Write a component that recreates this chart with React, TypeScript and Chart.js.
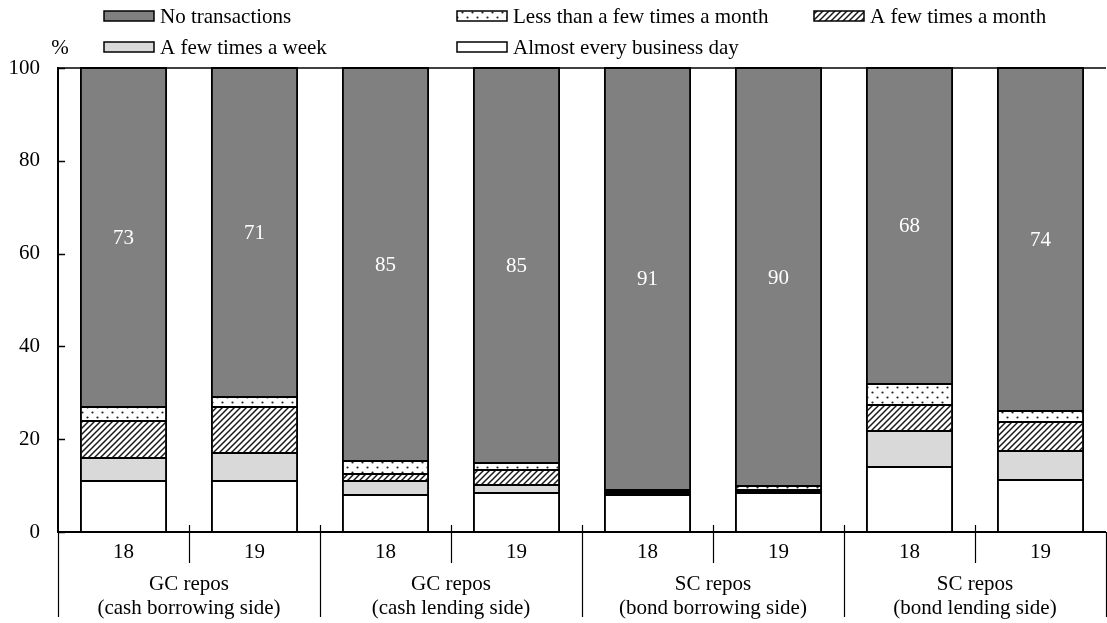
import React, { useEffect, useRef } from 'react';
import { Chart, registerables } from 'chart.js';

Chart.register(...registerables);

const categories = ['18', '19', '18', '19', '18', '19', '18', '19'];
const groupLine1 = ['GC repos', 'GC repos', 'SC repos', 'SC repos'];
const groupLine2 = ['(cash borrowing side)', '(cash lending side)', '(bond borrowing side)', '(bond lending side)'];
const yTicks = [0, 20, 40, 60, 80, 100];

const seriesNames = [
  'Almost every business day',
  'A few times a week',
  'A few times a month',
  'Less than a few times a month',
  'No transactions',
];
const almostEveryDay = [11, 11, 8, 8.5, 7.9, 8.3, 14.1, 11.1];
const fewTimesWeek = [5, 6, 2.9, 1.7, 0.3, 0.3, 7.7, 6.4];
const fewTimesMonth = [8, 10, 1.7, 3.2, 0.4, 0.4, 5.6, 6.1];
const lessThanFewMonth = [3, 2, 2.8, 1.5, 0.5, 0.9, 4.6, 2.5];
const noTransactions = [73, 71, 84.6, 85, 90.9, 90.1, 68, 73.9];

const FONT = "'Liberation Serif', 'Times New Roman', serif";
const FS = 21;

function makeDots(): CanvasPattern | string {
  const c = document.createElement('canvas');
  c.width = 10; c.height = 10;
  const g = c.getContext('2d');
  if (!g) return '#fff';
  g.fillStyle = '#fff';
  g.fillRect(0, 0, 10, 10);
  g.fillStyle = '#222';
  g.beginPath(); g.arc(2.5, 2.5, 1.1, 0, Math.PI * 2); g.fill();
  g.beginPath(); g.arc(7.5, 7.5, 1.1, 0, Math.PI * 2); g.fill();
  return g.createPattern(c, 'repeat') || '#fff';
}

function makeHatch(): CanvasPattern | string {
  const s = 6;
  const c = document.createElement('canvas');
  c.width = s; c.height = s;
  const g = c.getContext('2d');
  if (!g) return '#fff';
  g.fillStyle = '#fff';
  g.fillRect(0, 0, s, s);
  g.strokeStyle = '#1a1a1a';
  g.lineWidth = 1.5;
  g.beginPath();
  g.moveTo(-1, s + 1); g.lineTo(s + 1, -1);
  g.moveTo(-1, 1); g.lineTo(1, -1);
  g.moveTo(s - 1, s + 1); g.lineTo(s + 1, s - 1);
  g.stroke();
  return g.createPattern(c, 'repeat') || '#fff';
}

export default function App() {
  const ref = useRef<HTMLCanvasElement | null>(null);

  useEffect(() => {
    document.body.style.margin = '0';
    const canvas = ref.current;
    if (!canvas) return;
    const dots = makeDots();
    const hatch = makeHatch();
    const fills: any[] = ['#ffffff', '#d9d9d9', hatch, dots, '#808080'];
    const values = [almostEveryDay, fewTimesWeek, fewTimesMonth, lessThanFewMonth, noTransactions];

    const overlay = {
      id: 'overlay',
      afterDatasetsDraw(chart: any) {
        const ctx = chart.ctx as CanvasRenderingContext2D;
        const area = chart.chartArea;
        const xs = chart.scales.x;
        const ys = chart.scales.y;
        ctx.save();

        // crisp horizontal segment boundaries
        ctx.fillStyle = '#000';
        values.forEach((_, d) => {
          const m = chart.getDatasetMeta(d);
          m.data.forEach((el: any) => {
            const p = el.getProps(['x', 'y', 'base', 'width'], true);
            const x0 = Math.round(p.x - p.width / 2);
            const x1 = Math.round(p.x + p.width / 2);
            const yt = Math.round(p.y);
            ctx.fillRect(x0, yt - 1, x1 - x0, 2);
          });
        });

        // value labels on the no-transactions segment
        const meta = chart.getDatasetMeta(4);
        ctx.fillStyle = '#ffffff';
        ctx.font = `${FS}px ${FONT}`;
        ctx.textAlign = 'center';
        ctx.textBaseline = 'middle';
        meta.data.forEach((el: any, i: number) => {
          const p = el.getProps(['x', 'y', 'base'], true);
          ctx.fillText(String(Math.round(noTransactions[i])), p.x, (p.y + p.base) / 2 + 1);
        });

        ctx.strokeStyle = '#000';
        // top frame line
        ctx.lineWidth = 1.5;
        ctx.beginPath();
        ctx.moveTo(area.left, area.top);
        ctx.lineTo(area.right, area.top);
        ctx.stroke();
        // y inner ticks
        ctx.lineWidth = 1.5;
        yTicks.forEach((t) => {
          const y = Math.round(ys.getPixelForValue(t)) + 0.5;
          ctx.beginPath();
          ctx.moveTo(area.left, y);
          ctx.lineTo(area.left + 7, y);
          ctx.stroke();
        });
        // x axis line
        ctx.lineWidth = 2;
        ctx.beginPath();
        ctx.moveTo(area.left, area.bottom);
        ctx.lineTo(area.right, area.bottom);
        ctx.stroke();
        // category separators
        const n = categories.length;
        const w = (area.right - area.left) / n;
        ctx.lineWidth = 1.2;
        for (let i = 0; i <= n; i++) {
          const x = Math.round(area.left + w * i) + 0.5;
          const isGroup = i % 2 === 0;
          ctx.beginPath();
          ctx.moveTo(x, i === 0 || i === n ? area.bottom : area.bottom - 7);
          ctx.lineTo(x, isGroup ? area.bottom + 85 : area.bottom + 31);
          ctx.stroke();
        }
        // labels
        ctx.fillStyle = '#000';
        ctx.font = `${FS}px ${FONT}`;
        ctx.textAlign = 'center';
        ctx.textBaseline = 'middle';
        categories.forEach((c, i) => {
          ctx.fillText(c, xs.getPixelForValue(i), area.bottom + 20);
        });
        groupLine1.forEach((g, k) => {
          const cx = area.left + w * (2 * k + 1);
          ctx.fillText(g, cx, area.bottom + 52);
          ctx.fillText(groupLine2[k], cx, area.bottom + 76);
        });

        // legend
        const legendItems = [
          { idx: 4, bx: 104, ty: 16 },
          { idx: 3, bx: 457, ty: 16 },
          { idx: 2, bx: 814, ty: 16 },
          { idx: 1, bx: 104, ty: 47 },
          { idx: 0, bx: 457, ty: 47 },
        ];
        ctx.textAlign = 'left';
        legendItems.forEach((it) => {
          ctx.fillStyle = fills[it.idx];
          ctx.fillRect(it.bx, it.ty - 5, 50, 10);
          ctx.lineWidth = 1.5;
          ctx.strokeStyle = '#000';
          ctx.strokeRect(it.bx, it.ty - 5, 50, 10);
          ctx.fillStyle = '#000';
          ctx.fillText(seriesNames[it.idx], it.bx + 56, it.ty + 1);
        });
        ctx.textAlign = 'center';
        ctx.fillText('%', 60, 48);
        ctx.restore();
      },
    };

    const chart = new Chart(canvas, {
      type: 'bar',
      data: {
        labels: categories.map((c, i) => `${c}-${i}`),
        datasets: values.map((v, i) => ({
          label: seriesNames[i],
          data: v,
          backgroundColor: fills[i],
          borderColor: '#000',
          borderWidth: { top: 0, bottom: 0, left: 2, right: 2 },
          borderSkipped: false,
          barPercentage: 0.665,
          categoryPercentage: 1,
        })),
      },
      options: {
        animation: false,
        responsive: true,
        maintainAspectRatio: false,
        layout: { padding: { top: 68, bottom: 91, left: 0, right: 1 } },
        plugins: { legend: { display: false }, tooltip: { enabled: false } },
        scales: {
          x: { stacked: true, display: false },
          y: {
            stacked: true,
            min: 0,
            max: 100,
            ticks: {
              stepSize: 20,
              color: '#000',
              padding: 10,
              font: { family: FONT, size: FS },
            },
            grid: { display: false },
            border: { display: true, color: '#000', width: 2 },
            afterFit: (s: any) => { s.width = 58; },
          },
        },
      },
      plugins: [overlay],
    });
    return () => chart.destroy();
  }, []);

  return (
    <div style={{ position: 'relative', width: 1107, height: 623 }}>
      <canvas ref={ref} />
    </div>
  );
}
